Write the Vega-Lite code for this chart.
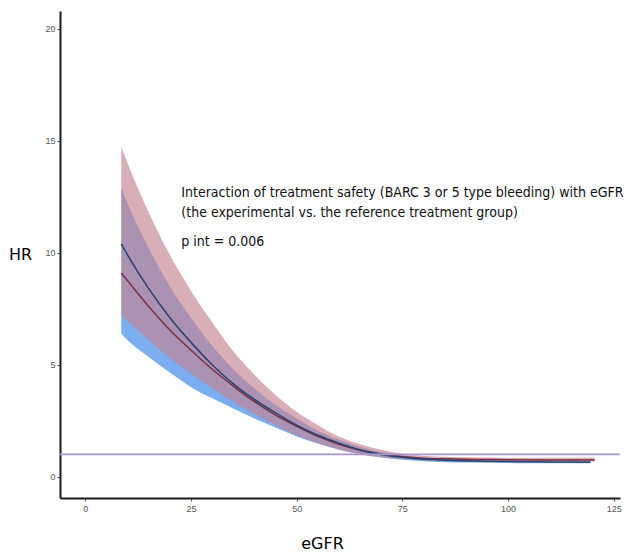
{
  "$schema": "https://vega.github.io/schema/vega-lite/v6.json",
  "width": 560,
  "height": 487,
  "autosize": "none",
  "padding": {"left": 60, "top": 11, "right": 9, "bottom": 55},
  "background": "white",
  "config": {
    "view": {"stroke": null},
    "axis": {
      "grid": false,
      "domainColor": "#1a1a1a",
      "domainWidth": 2,
      "tickColor": "#555555",
      "tickSize": 3,
      "labelColor": "#555555",
      "labelFont": "Liberation Sans",
      "labelFontSize": 9,
      "titleFont": "DejaVu Sans",
      "titleFontWeight": "normal",
      "titleFontSize": 16,
      "titleColor": "#000000"
    }
  },
  "datasets": {
    "blue": [
      {"eGFR": 8.5, "hr": 10.4, "lo": 6.4, "hi": 12.9},
      {"eGFR": 10, "hr": 9.9, "lo": 6.1, "hi": 12.2},
      {"eGFR": 15, "hr": 8.4, "lo": 5.35, "hi": 10.2},
      {"eGFR": 20, "hr": 7.1, "lo": 4.65, "hi": 8.5},
      {"eGFR": 25, "hr": 6.0, "lo": 4.0, "hi": 7.1},
      {"eGFR": 30, "hr": 5.0, "lo": 3.5, "hi": 5.85},
      {"eGFR": 35, "hr": 4.15, "lo": 3.05, "hi": 4.8},
      {"eGFR": 40, "hr": 3.45, "lo": 2.6, "hi": 3.95},
      {"eGFR": 45, "hr": 2.85, "lo": 2.2, "hi": 3.2},
      {"eGFR": 50, "hr": 2.3, "lo": 1.8, "hi": 2.6},
      {"eGFR": 55, "hr": 1.85, "lo": 1.48, "hi": 2.05},
      {"eGFR": 60, "hr": 1.5, "lo": 1.22, "hi": 1.65},
      {"eGFR": 65, "hr": 1.2, "lo": 1.0, "hi": 1.33},
      {"eGFR": 70, "hr": 1.0, "lo": 0.86, "hi": 1.1},
      {"eGFR": 75, "hr": 0.87, "lo": 0.76, "hi": 0.95},
      {"eGFR": 80, "hr": 0.78, "lo": 0.69, "hi": 0.86},
      {"eGFR": 85, "hr": 0.74, "lo": 0.65, "hi": 0.81},
      {"eGFR": 90, "hr": 0.71, "lo": 0.63, "hi": 0.78},
      {"eGFR": 95, "hr": 0.69, "lo": 0.62, "hi": 0.76},
      {"eGFR": 100, "hr": 0.68, "lo": 0.61, "hi": 0.74},
      {"eGFR": 105, "hr": 0.67, "lo": 0.6, "hi": 0.73},
      {"eGFR": 110, "hr": 0.66, "lo": 0.6, "hi": 0.72},
      {"eGFR": 115, "hr": 0.66, "lo": 0.6, "hi": 0.72},
      {"eGFR": 119.5, "hr": 0.65, "lo": 0.6, "hi": 0.71}
    ],
    "red": [
      {"eGFR": 8.5, "hr": 9.1, "lo": 7.23, "hi": 14.75},
      {"eGFR": 10, "hr": 8.75, "lo": 6.95, "hi": 14.0},
      {"eGFR": 15, "hr": 7.6, "lo": 6.1, "hi": 11.8},
      {"eGFR": 20, "hr": 6.55, "lo": 5.3, "hi": 9.9},
      {"eGFR": 25, "hr": 5.65, "lo": 4.6, "hi": 8.3},
      {"eGFR": 30, "hr": 4.8, "lo": 3.95, "hi": 6.9},
      {"eGFR": 35, "hr": 4.05, "lo": 3.35, "hi": 5.6},
      {"eGFR": 40, "hr": 3.35, "lo": 2.8, "hi": 4.55},
      {"eGFR": 45, "hr": 2.75, "lo": 2.3, "hi": 3.65},
      {"eGFR": 50, "hr": 2.25, "lo": 1.85, "hi": 2.9},
      {"eGFR": 55, "hr": 1.8, "lo": 1.5, "hi": 2.3},
      {"eGFR": 60, "hr": 1.45, "lo": 1.2, "hi": 1.8},
      {"eGFR": 65, "hr": 1.18, "lo": 1.0, "hi": 1.45},
      {"eGFR": 70, "hr": 1.0, "lo": 0.87, "hi": 1.2},
      {"eGFR": 75, "hr": 0.9, "lo": 0.8, "hi": 1.03},
      {"eGFR": 80, "hr": 0.83, "lo": 0.75, "hi": 0.94},
      {"eGFR": 85, "hr": 0.8, "lo": 0.72, "hi": 0.89},
      {"eGFR": 90, "hr": 0.78, "lo": 0.71, "hi": 0.87},
      {"eGFR": 95, "hr": 0.77, "lo": 0.7, "hi": 0.86},
      {"eGFR": 100, "hr": 0.76, "lo": 0.69, "hi": 0.85},
      {"eGFR": 110, "hr": 0.75, "lo": 0.68, "hi": 0.85},
      {"eGFR": 120.5, "hr": 0.75, "lo": 0.68, "hi": 0.86}
    ],
    "notes": [
      {"eGFR": 22.7, "hr": 12.68, "label": "Interaction of treatment safety (BARC 3 or 5 type bleeding) with eGFR"},
      {"eGFR": 22.7, "hr": 11.79, "label": "(the experimental vs. the reference treatment group)"},
      {"eGFR": 22.7, "hr": 10.49, "label": "p int = 0.006"}
    ]
  },
  "encoding": {
    "x": {
      "field": "eGFR",
      "type": "quantitative",
      "scale": {"domain": [-6, 126.5], "nice": false, "zero": false},
      "axis": {"values": [0, 25, 50, 75, 100, 125], "title": "eGFR", "titleX": 262, "titleY": 45, "titleBaseline": "middle", "labelPadding": 3}
    }
  },
  "layer": [
    {
      "data": {"name": "blue"},
      "mark": {"type": "area", "interpolate": "monotone", "color": "#7BAEF0", "opacity": 1},
      "encoding": {
        "y": {
          "field": "lo",
          "type": "quantitative",
          "scale": {"domain": [-0.95, 20.8], "nice": false, "zero": false},
          "axis": {"values": [0, 5, 10, 15, 20], "title": "HR", "titleAngle": 0, "titleX": -40, "titleY": 243, "titleAlign": "center", "titleBaseline": "middle", "labelPadding": 2}
        },
        "y2": {"field": "hi"}
      }
    },
    {
      "data": {"name": "red"},
      "mark": {"type": "area", "interpolate": "monotone", "color": "#C68291", "opacity": 0.65},
      "encoding": {
        "y": {"field": "lo", "type": "quantitative"},
        "y2": {"field": "hi"}
      }
    },
    {
      "data": {"name": "red"},
      "mark": {"type": "line", "interpolate": "monotone", "color": "#7A3040", "strokeWidth": 1.5},
      "encoding": {"y": {"field": "hr", "type": "quantitative"}}
    },
    {
      "data": {"name": "blue"},
      "mark": {"type": "line", "interpolate": "monotone", "color": "#2B4570", "strokeWidth": 1.6},
      "encoding": {"y": {"field": "hr", "type": "quantitative"}}
    },
    {
      "data": {"values": [{"ref": 1}]},
      "mark": {"type": "rule", "color": "#A697CC", "strokeWidth": 1.6},
      "encoding": {"y": {"field": "ref", "type": "quantitative"}, "x": null}
    },
    {
      "data": {"name": "notes"},
      "mark": {"type": "text", "align": "left", "baseline": "middle", "font": "DejaVu Sans Condensed", "fontSize": 14, "color": "#111111"},
      "encoding": {
        "y": {"field": "hr", "type": "quantitative"},
        "text": {"field": "label"}
      }
    }
  ]
}
